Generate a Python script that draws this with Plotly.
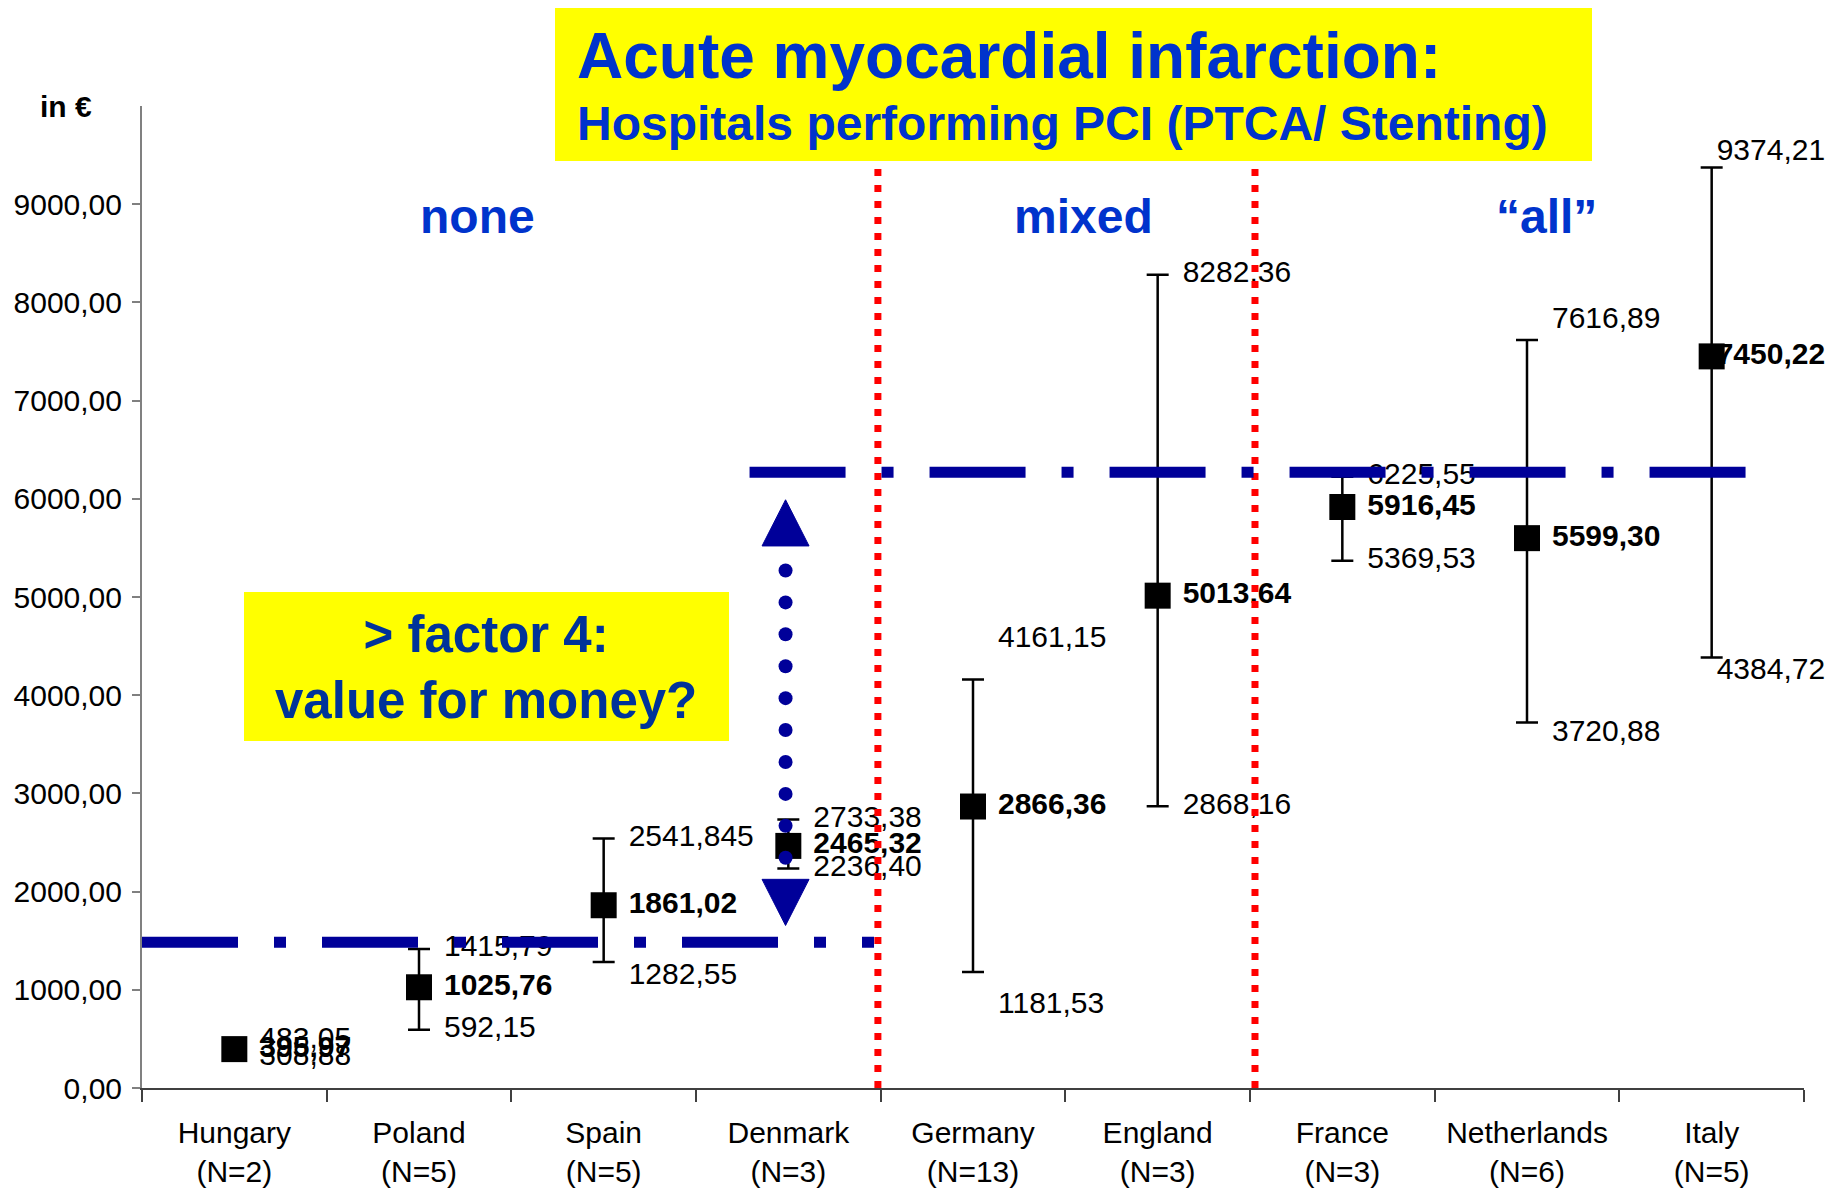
import numpy as np
import plotly.graph_objects as go

# ---------------- data ----------------
countries = ["Hungary", "Poland", "Spain", "Denmark", "Germany",
             "England", "France", "Netherlands", "Italy"]
n_hospitals = [2, 5, 5, 3, 13, 3, 3, 6, 5]
mean_cost = [395.97, 1025.76, 1861.02, 2465.32, 2866.36,
             5013.64, 5916.45, 5599.30, 7450.22]
upper_cost = [483.05, 1415.79, 2541.845, 2733.38, 4161.15,
              8282.36, 6225.55, 7616.89, 9374.21]
lower_cost = [308.88, 592.15, 1282.55, 2236.40, 1181.53,
              2868.16, 5369.53, 3720.88, 4384.72]
y_tick_values = [0, 1000, 2000, 3000, 4000, 5000, 6000, 7000, 8000, 9000]
y_tick_labels = ["0,00", "1000,00", "2000,00", "3000,00", "4000,00",
                 "5000,00", "6000,00", "7000,00", "8000,00", "9000,00"]
group_names = ["none", "mixed", "\u201call\u201d"]
low_level = 1485      # lower reference line (none group)
high_level = 6270     # upper reference line (mixed/all)

# ---------------- styling / positions ----------------
PAGE_OFFSET = 8                    # default body margin of the html page
W, H = 1843 - PAGE_OFFSET, 1192 - PAGE_OFFSET
PLOT_L, PLOT_R, PLOT_T, PLOT_B = 142, 1804, 106, 1088   # target screen px
ML = PLOT_L - PAGE_OFFSET
MT = PLOT_T - PAGE_OFFSET
MR = (W + PAGE_OFFSET) - PLOT_R
MB = (H + PAGE_OFFSET) - PLOT_B
PW, PH = PLOT_R - PLOT_L, PLOT_B - PLOT_T
Y_MAX = 10000
PX_X = 9 / PW            # category units per px
PX_Y = Y_MAX / PH        # value units per px

upper_shift_px = [0, 0, 0, 0, 40, 0, 0, 20, 15]
lower_shift_px = [0, 0, -14, 0, -34, 0, 0, -11, -14]
label_x_px = [25, 25, 25, 25, 25, 25, 25, 25, 5]

FONT = "Arial, Liberation Sans, Helvetica, sans-serif"
NAVY = "#000099"
TITLE_BLUE = "#0033CC"
BOX_BLUE = "#003399"
YELLOW = "#FFFF00"
LABEL_SIZE = 30


def fmt(v):
    s = f"{v:.3f}".rstrip("0")
    whole, dec = s.split(".")
    dec = dec.ljust(2, "0")
    return f"{whole},{dec}"


def px2paper_x(px):
    return (px - PLOT_L) / PW


def px2paper_y(py):
    return (PLOT_B - py) / PH


x = np.arange(len(countries))
mean = np.array(mean_cost)
up = np.array(upper_cost)
lo = np.array(lower_cost)
lx = x + np.array(label_x_px) * PX_X

fig = go.Figure()

# mean markers with min/max error bars
fig.add_trace(go.Scatter(
    x=x, y=mean, mode="markers",
    marker=dict(symbol="square", size=26, color="black"),
    error_y=dict(type="data", symmetric=False, array=up - mean,
                 arrayminus=mean - lo, color="black", thickness=2.5, width=11),
    hoverinfo="skip", cliponaxis=False))

# data labels
fig.add_trace(go.Scatter(
    x=lx, y=up + np.array(upper_shift_px) * PX_Y, mode="text",
    text=[fmt(v) for v in upper_cost], textposition="middle right",
    textfont=dict(family=FONT, size=LABEL_SIZE, color="black"),
    hoverinfo="skip", cliponaxis=False))
fig.add_trace(go.Scatter(
    x=lx, y=mean, mode="text",
    text=[fmt(v) for v in mean_cost], textposition="middle right",
    textfont=dict(family=FONT, size=LABEL_SIZE, color="black", weight="bold"),
    hoverinfo="skip", cliponaxis=False))
fig.add_trace(go.Scatter(
    x=lx, y=lo + np.array(lower_shift_px) * PX_Y, mode="text",
    text=[fmt(v) for v in lower_cost], textposition="middle right",
    textfont=dict(family=FONT, size=LABEL_SIZE, color="black"),
    hoverinfo="skip", cliponaxis=False))

# double arrow between the two levels (at Denmark)
ax = 2.985
arrow_top = high_level - 280
arrow_bottom = low_level + 170
head = 470
hw = 23.5 * PX_X
dots = np.linspace(arrow_top - 720, arrow_bottom + 690, 10)
fig.add_trace(go.Scatter(
    x=[ax] * len(dots), y=dots, mode="markers",
    marker=dict(symbol="circle", size=14, color=NAVY), hoverinfo="skip"))
fig.add_trace(go.Scatter(
    x=[ax - hw, ax + hw, ax, ax - hw],
    y=[arrow_top - head, arrow_top - head, arrow_top, arrow_top - head],
    mode="lines", fill="toself", fillcolor=NAVY, line=dict(color=NAVY, width=1),
    hoverinfo="skip"))
fig.add_trace(go.Scatter(
    x=[ax - hw, ax + hw, ax, ax - hw],
    y=[arrow_bottom + head, arrow_bottom + head, arrow_bottom, arrow_bottom + head],
    mode="lines", fill="toself", fillcolor=NAVY, line=dict(color=NAVY, width=1),
    hoverinfo="skip"))

shapes = []
# red separators
for sx in (3.485, 5.527):
    shapes.append(dict(type="line", xref="x", yref="y", x0=sx, x1=sx,
                       y0=0, y1=9400, layer="above",
                       line=dict(color="#FF0000", width=7, dash="7px,9px")))
# blue dash-dot levels
dd = "96px,36px,12px,36px"
shapes.append(dict(type="line", xref="x", yref="y", x0=-0.5, x1=3.464,
                   y0=low_level, y1=low_level, layer="above",
                   line=dict(color=NAVY, width=11, dash=dd)))
shapes.append(dict(type="line", xref="x", yref="y", x0=2.79, x1=8.37,
                   y0=high_level, y1=high_level, layer="above",
                   line=dict(color=NAVY, width=11, dash=dd)))

# title box
shapes.append(dict(type="rect", xref="paper", yref="paper",
                   x0=px2paper_x(555), x1=px2paper_x(1592),
                   y0=px2paper_y(161), y1=px2paper_y(6),
                   fillcolor=YELLOW, line=dict(width=0), layer="below"))
# factor box
shapes.append(dict(type="rect", xref="paper", yref="paper",
                   x0=px2paper_x(244), x1=px2paper_x(729),
                   y0=px2paper_y(741), y1=px2paper_y(592),
                   fillcolor=YELLOW, line=dict(width=0), layer="below"))

annotations = [
    dict(text="<b>Acute myocardial infarction:</b>", xref="paper", yref="paper",
         x=px2paper_x(575), y=px2paper_y(56), xanchor="left", yanchor="middle",
         showarrow=False, font=dict(family=FONT, size=64, color=TITLE_BLUE)),
    dict(text="<b>Hospitals performing PCI (PTCA/ Stenting)</b>", xref="paper",
         yref="paper", x=px2paper_x(575), y=px2paper_y(124), xanchor="left",
         yanchor="middle", showarrow=False,
         font=dict(family=FONT, size=48, color=TITLE_BLUE)),
    dict(text="<b>&gt; factor 4:<br>value for money?</b>", xref="paper",
         yref="paper", x=px2paper_x(486), y=px2paper_y(667), xanchor="center",
         yanchor="middle", showarrow=False,
         font=dict(family=FONT, size=51, color=BOX_BLUE)),
    dict(text="<b>in \u20ac</b>", xref="paper", yref="paper",
         x=px2paper_x(66), y=1.0, xanchor="center", yanchor="middle",
         showarrow=False, font=dict(family=FONT, size=30, color="black")),
]
for name, gx in zip(group_names, (1.319, 4.601, 7.108)):
    annotations.append(dict(text=f"<b>{name}</b>", xref="x", yref="y",
                            x=gx, y=8872, xanchor="center", yanchor="middle",
                            showarrow=False,
                            font=dict(family=FONT, size=48, color=TITLE_BLUE)))

fig.update_layout(
    width=W, height=H,
    margin=dict(l=ML, r=MR, t=MT, b=MB, autoexpand=False),
    plot_bgcolor="white", paper_bgcolor="white",
    showlegend=False,
    shapes=shapes, annotations=annotations,
    xaxis=dict(range=[-0.5, 8.5], tickmode="array", tickvals=list(x),
               ticktext=[f"{c}<br>(N={n})" for c, n in zip(countries, n_hospitals)],
               ticks="", showline=True, linecolor="#404040", linewidth=2,
               showgrid=False, zeroline=False, ticklabelstandoff=17,
               automargin=False,
               tickfont=dict(family=FONT, size=30, color="black"),
               minor=dict(tickmode="array",
                          tickvals=[i - 0.5 for i in range(len(countries) + 1)],
                          ticks="outside", ticklen=12, tickcolor="#404040",
                          tickwidth=1.5, showgrid=False)),
    yaxis=dict(range=[0, Y_MAX], tickmode="array", tickvals=y_tick_values,
               ticktext=y_tick_labels, ticks="outside", ticklen=8,
               tickcolor="#808080", tickwidth=1.5, showline=True,
               linecolor="#808080", linewidth=2, showgrid=False,
               zeroline=False, automargin=False, ticklabelstandoff=4,
               tickfont=dict(family=FONT, size=30, color="black")),
)

fig.write_html("out.html")
